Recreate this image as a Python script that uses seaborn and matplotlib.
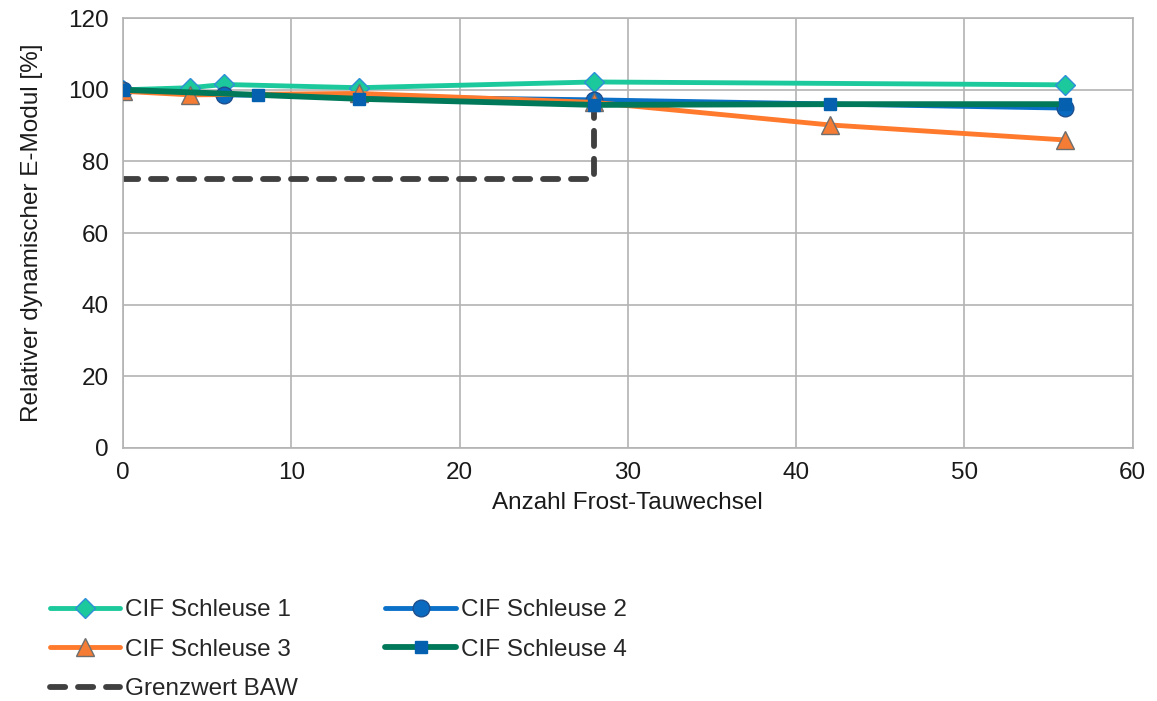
import matplotlib
matplotlib.use("Agg")
import matplotlib.pyplot as plt
import seaborn as sns

# values
x_s1 = [0, 4, 6, 14, 28, 56]
y_s1 = [100, 100.6, 101.5, 100.6, 102.2, 101.4]

x_s2 = [0, 6, 28, 56]
y_s2 = [100, 98.6, 97.2, 94.9]

x_s3 = [0, 4, 14, 28, 42, 56]
y_s3 = [99.6, 98.6, 99.0, 96.5, 90.2, 86.0]

x_s4 = [0, 8, 14, 28, 42, 56]
y_s4 = [100, 98.6, 97.5, 95.8, 96.0, 96.0]

x_grenz = [0, 28, 28]
y_grenz = [75, 75, 96]

labels = ["CIF Schleuse 1", "CIF Schleuse 2", "CIF Schleuse 3", "CIF Schleuse 4", "Grenzwert BAW"]

sns.set_style("white")
plt.rcParams["font.family"] = ["Liberation Sans", "DejaVu Sans"]
fs = 17.5

fig, ax = plt.subplots(figsize=(11.57, 7.01), dpi=100)
fig.subplots_adjust(left=0.1063, right=0.979, top=0.974, bottom=0.361)

# dashed limit line (estimator=None so the vertical part is kept)
sns.lineplot(x=x_grenz, y=y_grenz, ax=ax, color="#404040", linewidth=4.2,
             estimator=None, sort=False, label=labels[4], zorder=2)
grenz_line = ax.lines[-1]
grenz_line.set_dashes([2.6, 2.2])
grenz_line.set_dash_capstyle("round")

sns.lineplot(x=x_s1, y=y_s1, ax=ax, color="#1CC99C", linewidth=3.5, marker="D",
             markersize=10, markerfacecolor="#1CC99C", markeredgecolor="#2E8FD8",
             markeredgewidth=1, label=labels[0], zorder=3)
sns.lineplot(x=x_s2, y=y_s2, ax=ax, color="#0A70C8", linewidth=3.5, marker="o",
             markersize=12, markerfacecolor="#0A6AC0", markeredgecolor="#1F4E8C",
             markeredgewidth=1, label=labels[1], zorder=4)
sns.lineplot(x=x_s3, y=y_s3, ax=ax, color="#FF7A2C", linewidth=3.5, marker="^",
             markersize=13, markerfacecolor="#F47C34", markeredgecolor="#6E6E6E",
             markeredgewidth=1, label=labels[2], zorder=5)
sns.lineplot(x=x_s4, y=y_s4, ax=ax, color="#00785A", linewidth=4.2, marker="s",
             markersize=9, markerfacecolor="#0560B0", markeredgecolor="#0560B0",
             markeredgewidth=1, label=labels[3], zorder=6)

ax.set_xlim(0, 60)
ax.set_ylim(0, 120)
ax.set_xticks(range(0, 61, 10))
ax.set_yticks(range(0, 121, 20))
ax.grid(True, color="#B3B3B3", linewidth=1.2)
ax.set_axisbelow(True)
for side in ["top", "right", "left", "bottom"]:
    ax.spines[side].set_color("#B3B3B3")
    ax.spines[side].set_linewidth(1.2)
ax.tick_params(axis="both", which="both", length=6, width=1.2, color="#B3B3B3",
               labelsize=fs, labelcolor="#1A1A1A", direction="out", pad=4)

ax.set_xlabel("Anzahl Frost-Tauwechsel", fontsize=fs, color="#1A1A1A", labelpad=6)
ax.set_ylabel("Relativer dynamischer E-Modul [%]", fontsize=fs, color="#1A1A1A", labelpad=18)

handles, lbls = ax.get_legend_handles_labels()
ax.get_legend().remove()
order = [labels[0], labels[2], labels[4], labels[1], labels[3]]
hmap = dict(zip(lbls, handles))
fig.legend([hmap[l] for l in order], order, loc="upper left",
           bbox_to_anchor=(0.043, 0.145), ncol=2, frameon=False, fontsize=fs,
           handlelength=2.9, handletextpad=0.2, columnspacing=3.6, labelspacing=0.72,
           borderaxespad=0, borderpad=0)

plt.savefig("out.png", dpi=100)
